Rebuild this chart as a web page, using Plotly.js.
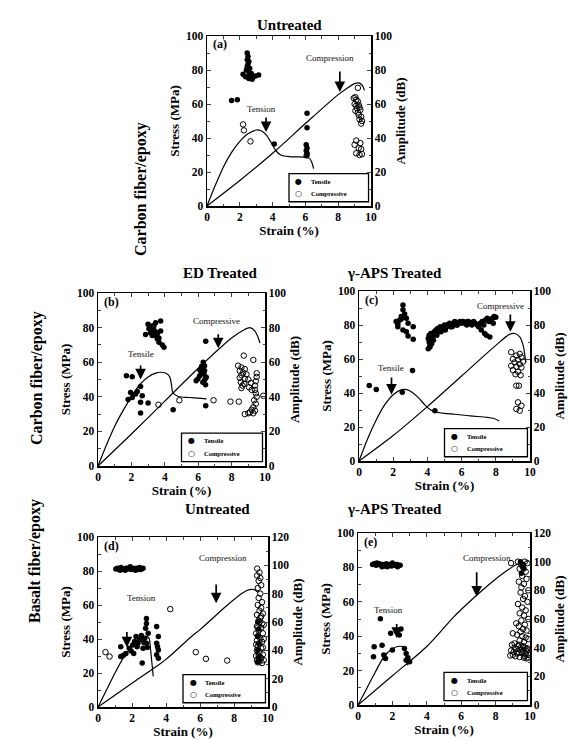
<!DOCTYPE html>
<html><head><meta charset="utf-8">
<script src="https://cdn.plot.ly/plotly-3.0.1.min.js"></script>
<style>html,body{margin:0;padding:0;background:#fff}#chart{width:571px;height:740px}</style>
</head><body><div id="chart"></div>
<script>
// ---------------- DATA ----------------
// Panel (a) carbon/epoxy untreated  (amplitude dB vs strain %)
const a_tens_x = [2.45,2.5,2.45,2.55,2.5,2.45,2.6,2.4,2.55,2.2,2.7,2.35,2.55,2.75,2.95,3.15,2.6,2.85,1.5,1.85,4.1,6.1,6.1,6.05,6.1,6.05,6.1,6.1,6.05];
const a_tens_y = [90,88,86,85,83.5,82,81,80,79,77.5,78,76,75,74.5,76.5,77,77,76,62,62.5,36.5,54.5,46,36,34,32.5,31,30,29.5];
const a_comp_x = [2.2,2.25,2.65,9.2,8.95,9.05,9.1,9.2,9.0,9.1,9.25,9.15,9.3,9.05,9.2,9.35,9.25,9.4,9.3,9.45,9.4,9.1,9.35,9.0,9.25,9.4,9.1,9.3,9.45];
const a_comp_y = [48,44.5,38,69.5,63.5,64,62.5,61.5,60,59,59.5,57.5,58,56,55,56.5,53.5,52.5,51,50,48.5,38.5,37,36,34,33.5,31,30,30.5];
const a_tcurve_x = [0,0.5,1,1.5,2,2.5,3,3.3,3.6,3.9,4.2,4.5,5,6,6.25,6.4,6.5];
const a_tcurve_y = [0,12,23,31.5,38,42.5,44.7,44.3,42,37.5,32.5,30,29,28.7,28,25.5,22];
const a_ccurve_x = [0,2,4,6,8,8.5,9,9.3,9.5,9.6];
const a_ccurve_y = [0,15,31,48.5,65.5,69,72,72.3,70.5,68];

// Panel (b) carbon/epoxy ED treated
const b_tens_x = [3.75,3.45,3.25,3.05,2.85,3.15,3.35,3.45,3.55,3.65,3.95,3.75,3.35,3.55,3.15,3.25,3.45,3.65,3.85,3.0,
  1.7,2.05,2.55,1.95,2.25,2.05,2.65,2.55,3.0,2.55,4.5,6.45,6.45,2.35,1.8,
  6.38,6.28,6.18,6.08,6.38,6.48,5.98,5.88,6.28,6.44,6.3,6.2,6.35,6.1,6.4];
const b_tens_y = [83.8,82.8,80.9,79.3,76,77,81,75.4,73.5,71.5,68.6,78,78.5,76.5,80,75.5,77.5,74,70,82,
  52.2,51.6,46,42.5,41.6,39.6,40.6,36.8,36.4,30.6,32.5,34.8,72.1,43,38.5,
  58,56,54,52,55,51.3,50.3,49.3,48.4,47,60,57.5,53,55.5,50];
const b_comp_x = [3.62,4.87,6.92,7.93,8.43,8.73,9.3,8.39,8.59,8.79,8.49,8.69,8.89,8.59,8.49,8.79,8.55,8.65,8.59,8.75,9.0,9.15,9.5,9.5,9.45,9.4,9.4,9.45,9.5,9.35,9.45,9.3,9.2,9.4,9.0,8.79,9.1,9.3,9.9,9.2,9.05];
const b_comp_y = [35.4,38,38,37.2,37.2,63.8,61.3,58,57,56,55,54,53,52.5,51,50.5,48.5,46.5,45,47.5,50,48,53.6,51.5,49,46.5,44,42,40,38,36,34,32.5,32,30.5,30,31,30.5,40.6,44,45.5];
const b_tcurve_x = [0,0.5,1,1.5,2,2.5,3,3.5,3.7,4.1,4.3,4.4,4.48,4.8,5.5,6,6.5];
const b_tcurve_y = [0,12,23,32,40,47,51.5,53.8,54.2,53.5,51.5,47,42.5,40.2,39.6,39.2,38.8];
const b_ccurve_x = [0,2,4,6,8,8.7,9.1,9.4,9.6,9.7];
const b_ccurve_y = [0,18.5,37.5,56.5,74,78.5,80,78,74,71];

// Panel (c) carbon/epoxy gamma-APS treated
const c_tens_x = [2.57,2.57,2.67,2.47,2.77,2.37,2.17,2.87,2.27,3.17,2.57,2.77,2.87,3.17,2.27,2.47,
  4.05,4.1,4.15,4.05,4.2,4.1,4.25,4.15,4.3,4.2,4.35,4.4,4.5,4.55,4.6,4.7,4.75,4.8,4.9,5.0,5.05,5.1,5.2,5.3,5.35,5.4,5.5,5.6,5.7,5.8,5.9,6.0,6.1,6.2,6.3,6.4,6.5,6.6,6.7,6.8,6.9,7.0,7.1,7.2,7.3,7.4,7.5,7.6,7.7,7.8,7.9,8.0,
  4.45,4.65,4.85,5.15,5.45,5.75,6.05,6.35,6.65,6.95,7.25,7.55,7.85,7.15,7.35,7.45,7.65,
  3.13,0.6,1.01,2.53,4.44];
const c_tens_y = [91.7,89,86.4,85,84,82.8,82,81,79,79,77,76,73.6,71.6,80.5,83.5,
  72,70,68,66,71,74,69,67,73,75,71,76,77,74,78,77,79,76,78,80,77,79,80,81,79,80,81,82,80,81,82,81,82,81,80,82,81,80,82,81,80,79,81,82,80,83,84,82,83,84,85,84.5,
  75,76,78,80,79,80,82,82,81,80,82,83,81,77,75,74,73,
  53.2,44.4,42,40.4,29.6];
const c_comp_x = [8.9,9.4,9.2,9.5,9.0,9.3,9.6,9.1,9.4,8.9,9.2,9.5,9.0,9.3,9.15,9.45,9.2,9.35,9.3,9.5,9.2,9.4];
const c_comp_y = [64,63,62,61,60,59.5,58.5,58,57,56,55.5,55,53.5,52.5,51,50.5,44.3,44.3,34.5,32.5,30.6,29.6];
const c_tcurve_x = [0,0.5,1,1.5,2,2.5,2.8,3.1,3.5,3.85,4.2,4.5,5,5.6,6.5,7.5,7.9,8.2];
const c_tcurve_y = [0,13,24,33,39,42,42,40.5,37,33,30,28.8,28,27.5,26.5,25.7,25,23.5];
const c_ccurve_x = [0,2,4,6,8,8.8,9.1,9.4,9.6,9.7,9.75];
const c_ccurve_y = [0,15,32,50,68,74.5,75,73,68,62,58];

// Panel (d) basalt/epoxy untreated (amplitude axis 0-120)
const d_tens_x = [1.05,1.15,1.25,1.35,1.45,1.55,1.65,1.75,1.85,1.95,2.05,2.15,2.25,2.35,2.45,2.55,2.65,1.3,1.6,1.9,2.2,2.5,
  1.34,1.34,1.64,1.84,2.04,2.24,2.35,2.44,2.65,2.75,2.6,2.85,2.85,2.8,2.95,2.85,3.45,3.55,3.45,3.55,3.45,3.55,1.95,2.15,2.55,2.9,1.5,2.3,2.7,3.5,2.1,
  9.4,9.45,9.4,9.45,9.4,9.45,9.4];
const d_tens_y = [97.5,98,97,98.5,97.5,97,98,97.5,98.5,97,98,97.5,98,97,98.5,97.5,98,96.5,96.5,99,96.5,97,
  42.6,35.6,37.8,41.5,43.8,49.7,45,47.4,41.5,48.5,31,62.4,59,55.6,52,45,56.8,49.7,45,40.3,36.8,34.4,39.6,46.2,50.4,42,36.6,42.6,45.6,42.6,37.8,
  60,55,50,45,40,35,32];
const d_comp_x = [0.44,0.68,4.25,5.75,6.35,7.6,
  9.36,9.5,9.36,9.55,9.45,9.6,9.4,9.55,9.45,9.65,9.4,9.6,9.5,9.7,9.35,9.55,9.45,9.65,9.35,9.6,9.45,9.7,9.4,9.55,9.35,9.65,9.5,9.4,9.6,9.35,9.5,9.7,9.45,9.6,9.35,9.5,9.65,9.4,9.55,9.7,9.4,9.5,9.6,9.75,9.75,9.3,9.3,9.3,9.75];
const d_comp_y = [38.7,35.6,69.1,38.7,34,32.8,
  97.7,95,92.8,91,89,86,84,80,77,74,72,70,68,66,65,63,61,59,57,56,54,52,50,48.5,47,46,44.5,43,41.5,40,38.5,37,36,34.5,33,32,31,31.5,35,42,56,60,64,58,48,52,44,36,33];
const d_tcurve_x = [0,0.5,1,1.5,2,2.5,2.85,3.0,3.1,3.18,3.25];
const d_tcurve_y = [0,10,20,29,35.5,39.5,41.5,40.5,33,25,18];
const d_ccurve_x = [0,2,3.45,4,5.5,6,7.5,8.5,8.9,9.2,9.4];
const d_ccurve_y = [0,14,24,28,41.5,45.5,59,67,69,69,67.5];

// Panel (e) basalt/epoxy gamma-APS treated (amplitude axis 0-120)
const e_tens_x = [0.85,0.95,1.05,1.15,1.25,1.35,1.45,1.55,1.65,1.75,1.85,1.95,2.05,2.15,2.25,2.35,2.45,1.1,1.4,1.7,2.0,2.3,
  1.3,0.94,1.4,0.9,1.5,1.6,2.0,1.9,2.4,2.5,2.3,2.7,2.8,2.8,3.0,2.9,
  9.45,9.55,9.65,9.5,9.6];
const e_tens_y = [98,98.5,97.5,98,98.5,97.5,98,97,98.5,97.5,98,97,98,97.5,98,97.5,97.5,99,96.5,96.5,99,96.5,
  60.1,40.7,41.6,33.7,34.8,32.5,38.4,50,48.9,53,52,39.5,36,31.3,30.2,33,
  100,97,95,92,98];
const e_comp_x = [8.9,9.3,9.5,9.7,9.85,9.4,9.6,9.75,9.55,9.8,9.35,9.65,9.5,9.9,9.45,9.7,9.6,9.85,9.3,9.55,9.75,9.4,9.65,9.9,9.5,9.2,9.7,9.35,9.6,9.8,9.45,9.0,9.25,9.55,9.75,9.9,9.4,9.65,9.1,8.95,9.3,9.5,9.7,9.85,9.2,9.45,9.6,9.8,9.05,9.35,9.55,9.75,9.9,8.85,9.15,9.4,9.65,9.8,9.0,9.25,9.5,9.7,9.9,8.9,9.1,9.35,9.6,9.8];
const e_comp_y = [99,100,98,100,99,95,96,93,90,88,86,84.5,82,80,78.5,76,74,72,70.5,68,66,64,62.5,60,59,57,56,55,53,52,51,50,49,48,47,46,45,44,43,42,41,40.5,40,39.5,39,38.5,38,37.5,37,36.5,36,35.5,35,34.5,34,33.5,33,32.5,35,36,37,34,33,38,40,42,41,39];
const e_tcurve_x = [0,0.5,1,1.5,1.9,2.3,2.7,2.8,2.9];
const e_tcurve_y = [0,9.5,19,28,32,34,33.5,29,23];
const e_ccurve_x = [0,2,4,5.5,6,7.5,8.5,9.2,9.5];
const e_ccurve_y = [0,17,34,50.5,55.5,69,77,81.5,82.5];

const panelTitles = ['Untreated','ED Treated','γ-APS Treated','Untreated','γ-APS Treated'];
const panelTags = ['(a)','(b)','(c)','(d)','(e)'];
const tensLabels = ['Tension','Tensile','Tensile','Tension','Tension'];
const compLabels = ['Compression','Compressive','Compressive','Compression','Compression'];
const rowLabels = ['Carbon fiber/epoxy','Carbon fiber/epoxy','Basalt fiber/epoxy'];
const legendNames = ['Tensile','Compressive'];
const xTickVals = [0,2,4,6,8,10];
const yTickVals = [0,20,40,60,80,100];
const ampTicks100 = [0,20,40,60,80,100];
const ampTicks120 = [0,20,40,60,80,100,120];

// ---------------- LAYOUT ----------------
const W = 571, H = 740;
const SERIF = 'Liberation Serif, Times New Roman, serif';
const panels = [
  {x:'x',  yl:'y',  yr:'y2',  px:[207,371], py:[36,206],  amp:ampTicks100, d:[a_tens_x,a_tens_y,a_comp_x,a_comp_y,a_tcurve_x,a_tcurve_y,a_ccurve_x,a_ccurve_y],
   tArrow:[3.6,53,43.5], tLab:[3.35,57], cArrow:[8.1,80,67], cLab:[7.5,87]},
  {x:'x2', yl:'y3', yr:'y4',  px:[98,265],  py:[293,466], amp:ampTicks100, d:[b_tens_x,b_tens_y,b_comp_x,b_comp_y,b_tcurve_x,b_tcurve_y,b_ccurve_x,b_ccurve_y],
   tArrow:[2.55,59,50], tLab:[2.55,65], cArrow:[7.2,77,68], cLab:[7.1,84]},
  {x:'x3', yl:'y5', yr:'y6',  px:[359,530], py:[291,461], amp:ampTicks100, d:[c_tens_x,c_tens_y,c_comp_x,c_comp_y,c_tcurve_x,c_tcurve_y,c_ccurve_x,c_ccurve_y],
   tArrow:[1.9,50,39], tLab:[1.9,54.5], cArrow:[8.85,87,76], cLab:[8.3,91]},
  {x:'x4', yl:'y7', yr:'y8',  px:[98,268],  py:[537,707], amp:ampTicks120, d:[d_tens_x,d_tens_y,d_comp_x,d_comp_y,d_tcurve_x,d_tcurve_y,d_ccurve_x,d_ccurve_y],
   tArrow:[1.7,45,35], tLab:[2.55,64], cArrow:[6.95,73,61], cLab:[7.35,87.5]},
  {x:'x5', yl:'y9', yr:'y10', px:[358,530], py:[533,705], amp:ampTicks120, d:[e_tens_x,e_tens_y,e_comp_x,e_comp_y,e_tcurve_x,e_tcurve_y,e_ccurve_x,e_ccurve_y],
   tArrow:[2.25,48,39], tLab:[1.8,55.3], cArrow:[6.9,78,63], cLab:[7.5,85.6]}
];
const titlePos = [[289,15],[181,273],[444,273],[183,519],[444,519]];
const rowPos = [[130,120],[26,378],[24,625]];

const axName = id => id.replace('x','xaxis').replace('y','yaxis');
const tickFont = {family:SERIF, size:11.5, color:'#000', weight:'bold'};
const titleFont = {family:SERIF, size:13, color:'#000', weight:'bold'};

const traces = [];
const layout = {
  width:W, height:H, margin:{l:0,r:0,t:0,b:0}, showlegend:false,
  paper_bgcolor:'#fff', plot_bgcolor:'#fff', annotations:[], shapes:[]
};

panels.forEach((p,i)=>{
  const [tx,ty,cx,cy,tcx,tcy,ccx,ccy] = p.d;
  const xd = [p.px[0]/W, p.px[1]/W];
  const yd = [(H-p.py[1])/H, (H-p.py[0])/H];
  const ampMax = p.amp[p.amp.length-1];
  layout[axName(p.x)] = {
    domain:xd, anchor:p.yl, range:[0,10], tickvals:xTickVals, ticks:'inside', ticklen:4, tickwidth:1,
    showline:true, linewidth:1.5, linecolor:'#000', mirror:'ticks', showgrid:false, zeroline:false,
    minor:{ticks:'inside', dtick:1, ticklen:2.5, tickwidth:1, showgrid:false},
    tickfont:tickFont, title:{text:'Strain (%)', font:titleFont, standoff:1}
  };
  layout[axName(p.yl)] = {
    domain:yd, anchor:p.x, range:[0,100], tickvals:yTickVals, ticks:'inside', ticklen:4, tickwidth:1,
    showline:true, linewidth:1.5, linecolor:'#000', showgrid:false, zeroline:false,
    minor:{ticks:'inside', dtick:10, ticklen:2.5, tickwidth:1, showgrid:false},
    tickfont:tickFont, title:{text:'Stress (MPa)', font:titleFont, standoff:3}
  };
  layout[axName(p.yr)] = {
    overlaying:p.yl, anchor:p.x, side:'right', range:[0,ampMax], tickvals:p.amp, ticks:'inside', ticklen:4, tickwidth:1,
    showline:true, linewidth:1.5, linecolor:'#000', showgrid:false, zeroline:false,
    minor:{ticks:'inside', dtick:10, ticklen:2.5, tickwidth:1, showgrid:false},
    tickfont:tickFont, title:{text:'Amplitude (dB)', font:titleFont, standoff:4}
  };
  // stress-strain curves
  traces.push({x:tcx, y:tcy, xaxis:p.x, yaxis:p.yl, mode:'lines', line:{color:'#000', width:1.2, shape:'spline', smoothing:0.8}, hoverinfo:'skip'});
  traces.push({x:ccx, y:ccy, xaxis:p.x, yaxis:p.yl, mode:'lines', line:{color:'#000', width:1.2, shape:'spline', smoothing:0.8}, hoverinfo:'skip'});
  // AE events
  traces.push({x:cx, y:cy, xaxis:p.x, yaxis:p.yr, mode:'markers', name:legendNames[1],
    marker:{symbol:'circle-open', size:5.5, color:'#000', line:{width:1, color:'#000'}}});
  traces.push({x:tx, y:ty, xaxis:p.x, yaxis:p.yr, mode:'markers', name:legendNames[0],
    marker:{symbol:'circle', size:5.5, color:'#000'}});
  // arrows
  const arr = (a)=>({xref:p.x, yref:p.yl, axref:p.x, ayref:p.yl, x:a[0], y:a[2], ax:a[0], ay:a[1], text:'',
     showarrow:true, arrowhead:2, arrowsize:1.25, arrowwidth:1.7, arrowcolor:'#000', standoff:0});
  layout.annotations.push(arr(p.tArrow), arr(p.cArrow));
  const lab = (pos,t)=>({xref:p.x, yref:p.yl, x:pos[0], y:pos[1], text:t, showarrow:false,
     font:{family:SERIF, size:9, color:'#111'}});
  layout.annotations.push(lab(p.tLab, tensLabels[i]), lab(p.cLab, compLabels[i]));
  // panel tag
  layout.annotations.push({xref:p.x, yref:p.yl, x:0.25, y:95, xanchor:'left', text:panelTags[i], showarrow:false,
     font:{family:SERIF, size:12, color:'#000', weight:'bold'}});
  // panel title
  layout.annotations.push({xref:'paper', yref:'paper', x:titlePos[i][0]/W, y:(H-titlePos[i][1])/H, text:panelTitles[i],
     showarrow:false, font:{family:SERIF, size:15, color:'#000', weight:'bold'}});
  // inset legend box
  layout.shapes.push({type:'rect', xref:p.x, yref:p.yl, x0:5.0, x1:9.85, y0:2.5, y1:19, line:{color:'#000', width:1.3}, fillcolor:'#fff', layer:'above'});
  const li = (y,sym,t)=>[
    {xref:p.x, yref:p.yl, x:5.6, y:y, text:sym, showarrow:false, font:{family:'DejaVu Sans', size:8, color:'#000'}},
    {xref:p.x, yref:p.yl, x:6.2, y:y, xanchor:'left', text:t, showarrow:false, font:{family:SERIF, size:6.5, color:'#000', weight:'bold'}}];
  layout.annotations.push(...li(14.5,'●',legendNames[0]), ...li(7.5,'○',legendNames[1]));
});

rowLabels.forEach((t,i)=>{
  layout.annotations.push({xref:'paper', yref:'paper', x:rowPos[i][0]/W, y:(H-rowPos[i][1])/H, text:t, textangle:-90,
    showarrow:false, font:{family:SERIF, size:16, color:'#000', weight:'bold'}});
});

Plotly.newPlot('chart', traces, layout, {staticPlot:true, displayModeBar:false});
</script></body></html>
